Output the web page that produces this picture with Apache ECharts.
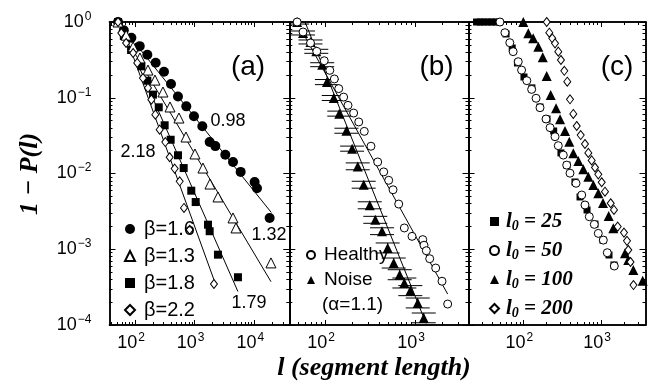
<!DOCTYPE html>
<html><head><meta charset="utf-8">
<script src="https://cdn.jsdelivr.net/npm/echarts@6/dist/echarts.min.js"></script>
<style>html,body{margin:0;padding:0;background:#fff}#c{width:656px;height:388px}</style>
</head><body><div id="c"></div>
<script>
// ---------- data (segment length l, 1-P(l)) ----------
const beta16 = [[52,1],[65,0.78],[87,0.62],[120,0.48],[161,0.37],[222,0.29],[306,0.22],[401,0.152],[525,0.104],[724,0.077],[973,0.057],[1343,0.042],[1783,0.026],[2218,0.023],[3260,0.0177],[4385,0.0142],[5890,0.0105],[10110,0.0077],[11060,0.0064],[18030,0.00259]];
const beta13 = [[52,1],[71,0.67],[93,0.47],[121,0.335],[165,0.232],[216,0.171],[294,0.119],[386,0.0755],[545,0.054],[715,0.0303],[1011,0.0181],[1377,0.0118],[1803,0.00726],[2455,0.0049],[4385,0.00259],[4920,0.00191],[18970,0.00066]];
const beta18 = [[52,1],[65,0.653],[86,0.427],[128,0.26],[161,0.168],[200,0.11],[250,0.0748],[314,0.0433],[396,0.0279],[525,0.0174],[654,0.0118],[877,0.00593],[1040,0.0042],[1671,0.00211],[1783,0.00173],[2455,0.000848],[5310,0.000427]];
const beta22 = [[52,1],[59,0.716],[71,0.528],[93,0.39],[109,0.288],[136,0.182],[165,0.135],[188,0.0942],[219,0.0597],[259,0.0379],[322,0.026],[381,0.0164],[462,0.0116],[561,0.00789],[662,0.00351],[824,0.00181],[2104,0.000348]];
const fit098 = [[100,0.53],[19200,0.00306]];
const fit132 = [[95,0.41],[19000,0.000373]];
const fit179 = [[120,0.244],[5300,0.000277]];
const fit218 = [[75,0.566],[2100,0.000397]];
const fitLabelsA = ['0.98','1.32','1.79','2.18'];

const healthy = [[49,1],[57,0.738],[69,0.528],[81,0.41],[98,0.308],[113,0.23],[127,0.177],[142,0.132],[161,0.102],[180,0.0794],[208,0.0628],[237,0.0479],[273,0.036],[324,0.0229],[385,0.0142],[449,0.0105],[510,0.00813],[570,0.0061],[659,0.00395],[761,0.00191],[927,0.00148],[1219,0.00134],[1259,0.00113],[1336,0.000957],[1456,0.00075],[1698,0.000565],[1995,0.000378],[2307,0.000189]];
const noise = [[49,1],[57,0.716],[69,0.545],[80,0.41],[93,0.273],[105,0.161],[125,0.0993],[144,0.0617],[173,0.0367],[200,0.0213],[231,0.0124],[269,0.00711],[314,0.0038],[362,0.00245],[430,0.00173],[497,0.00104],[580,0.000658],[676,0.000461],[761,0.000358],[887,0.000284],[1072,0.000195],[1250,0.000124]];
const noiseLo = [0.94,0.674,0.513,0.386,0.257,0.149,0.092,0.0572,0.034,0.0197,0.0112,0.0064,0.00342,0.0022,0.00156,0.000893,0.000565,0.000396,0.000308,0.000244,0.000168,0.000107];
const noiseHi = [1.06,0.761,0.579,0.436,0.29,0.174,0.107,0.0666,0.0396,0.023,0.0138,0.0079,0.00423,0.00272,0.00192,0.00121,0.000766,0.000537,0.000417,0.000331,0.000227,0.000144];
const fitHealthy = [[57,0.716],[2307,0.000256]];
const fitNoise = [[60,1],[1327,0.000105]];

const l025 = [[25,1],[28,1],[31,1],[35,1],[39,1],[44,1],[49,1],[60,0.695],[72,0.454],[84,0.288],[102,0.188],[129,0.135],[164,0.0755],[202,0.0524],[246,0.0364],[305,0.0187],[365,0.0129],[462,0.00773],[537,0.0049],[661,0.0033],[837,0.00215],[1061,0.00132],[1268,0.00084],[1469,0.00062]];
const l050 = [[50,1],[58,0.722],[67,0.533],[74,0.406],[86,0.299],[95,0.232],[111,0.168],[128,0.129],[146,0.0984],[164,0.0739],[196,0.0524],[221,0.0403],[256,0.0306],[282,0.0233],[327,0.0175],[362,0.0129],[399,0.0101],[477,0.00743],[565,0.0052],[622,0.00384],[707,0.00269],[820,0.00213],[923,0.00162],[1071,0.00132],[1205,0.0009],[1483,0.000601]];
const l100 = [[100,1],[116,0.709],[134,0.609],[156,0.472],[178,0.342],[200,0.194],[225,0.109],[264,0.0726],[297,0.0519],[344,0.0364],[391,0.0263],[440,0.0185],[511,0.0146],[592,0.0114],[687,0.00908],[797,0.00705],[923,0.00548],[1061,0.00408],[1257,0.00275],[1440,0.00189],[2037,0.000885],[2245,0.000722],[2604,0.000532],[3443,0.000385]];
const l200 = [[200,1],[216,0.722],[236,0.609],[256,0.523],[282,0.406],[305,0.315],[337,0.227],[368,0.163],[399,0.0954],[440,0.0611],[487,0.0424],[548,0.0322],[622,0.0245],[687,0.0187],[759,0.0149],[837,0.012],[923,0.00975],[1021,0.00766],[1125,0.00575],[1333,0.00405],[1469,0.0033],[1641,0.00199],[1977,0.00166],[2160,0.00129],[2245,0.000977],[2397,0.000679],[2618,0.000337]];

const legendA = ['β=1.6','β=1.3','β=1.8','β=2.2'];
const legendB = ['Healthy','Noise'];
const legendC = ['l0 = 25','l0 = 50','l0 = 100','l0 = 200'];
const panelNames = ['(a)','(b)','(c)'];

// axis extents in decades (log10 of l), shared y extent
const xExt = [[Math.log10(37.4), Math.log10(38500)], [Math.log10(40.1), Math.log10(3930)], [Math.log10(19.7), Math.log10(3740)]];
const yExt = [-4, 0];

// ---------- layout ----------
const grids = [
  {left:109.5, top:22, width:179.8, height:303},
  {left:289.3, top:22, width:179.2, height:303},
  {left:468.5, top:22, width:177, height:303}
];
const FONT = 'Liberation Sans';
const SERIF = 'Liberation Serif';

function decTicks(ext){
  const maj=[], min=[];
  for(let n=Math.floor(ext[0]); n<=Math.ceil(ext[1]); n++){
    if(n>=ext[0]-1e-9 && n<=ext[1]+1e-9) maj.push(n);
    for(let k=2;k<=9;k++){ const v=n+Math.log10(k); if(v>ext[0]+1e-6 && v<ext[1]-1e-6) min.push(v); }
  }
  return {maj,min};
}
function expFmt(v){ const e=Math.round(v); return '{b|10}{s|'+(e<0?'\u2212'+(-e):e)+'}'; }
const labRich = {
  b:{fontSize:18, fontFamily:FONT, color:'#000'},
  s:{fontSize:12, fontFamily:FONT, color:'#000', padding:[0,0,11,1]}
};
function mkAxis(grid, ext, pos, vals, len, label){
  return {
    type:'value', gridIndex:grid, min:ext[0], max:ext[1], position:pos,
    axisLine:{show:true, onZero:false, lineStyle:{color:'#000', width:1.5}},
    axisTick:{show:true, inside:true, length:len, customValues:vals, lineStyle:{color:'#000', width:1}},
    axisLabel: label || {show:false},
    splitLine:{show:false}
  };
}
const xAxes=[], yAxes=[];
for(let p=0;p<3;p++){
  const xt=decTicks(xExt[p]), yt=decTicks(yExt);
  xAxes.push(mkAxis(p, xExt[p], 'bottom', xt.maj, 5, {show:true, customValues:xt.maj, margin:7, padding:[0,8,0,0], formatter:expFmt, rich:labRich}));
  xAxes.push(mkAxis(p, xExt[p], 'bottom', xt.min, 3));
  xAxes.push(mkAxis(p, xExt[p], 'top', xt.maj, 5));
  xAxes.push(mkAxis(p, xExt[p], 'top', xt.min, 3));
  yAxes.push(mkAxis(p, yExt, 'left', yt.maj, 6, p===0 ? {show:true, customValues:yt.maj, margin:18, formatter:expFmt, rich:labRich} : null));
  yAxes.push(mkAxis(p, yExt, 'left', yt.min, 3));
  yAxes.push(mkAxis(p, yExt, 'right', yt.maj, 6));
  yAxes.push(mkAxis(p, yExt, 'right', yt.min, 3));
}

const lg = d => d.map(([l,v]) => [Math.log10(l), Math.log10(v)]);
const FILLED = {color:'#000', opacity:1};
const OPEN = {color:'#fff', borderColor:'#000', borderWidth:1, opacity:1};
function sc(p, name, data, symbol, size, style){
  return {type:'scatter', name, xAxisIndex:4*p, yAxisIndex:4*p, data:lg(data), symbol, symbolSize:size, itemStyle:style, clip:false, silent:true, z:3};
}
function fit(p, data){
  return {type:'line', xAxisIndex:4*p, yAxisIndex:4*p, data:lg(data), symbol:'none', lineStyle:{color:'#000', width:1}, silent:true, z:2};
}

const errData = noise.map(([l], i) => [Math.log10(l), Math.log10(noiseLo[i]), Math.log10(noiseHi[i])]);

const series = [
  fit(0, fit098), fit(0, fit132), fit(0, fit179), fit(0, fit218),
  sc(0, legendA[0], beta16, 'circle', 10, FILLED),
  sc(0, legendA[2], beta18, 'rect', 8, FILLED),
  sc(0, legendA[1], beta13, 'triangle', 10, OPEN),
  sc(0, legendA[3], beta22, 'diamond', [7,9], OPEN),
  fit(1, fitHealthy), fit(1, fitNoise),
  {type:'custom', xAxisIndex:4, yAxisIndex:4, clip:true, silent:true, z:2, data:errData,
   encode:{x:0, y:[1,2]},
   renderItem:(params, api) => {
     const x=api.value(0);
     const a=api.coord([x, api.value(1)]), b=api.coord([x, api.value(2)]);
     const w=12, st={stroke:'#000', lineWidth:1};
     return {type:'group', children:[
       {type:'line', shape:{x1:a[0], y1:a[1], x2:b[0], y2:b[1]}, style:st},
       {type:'line', shape:{x1:a[0]-w, y1:a[1], x2:a[0]+w, y2:a[1]}, style:st},
       {type:'line', shape:{x1:b[0]-w, y1:b[1], x2:b[0]+w, y2:b[1]}, style:st}
     ]};
   }},
  sc(1, legendB[1], noise, 'triangle', 10, FILLED),
  sc(1, legendB[0], healthy, 'circle', 8, OPEN),
  sc(2, legendC[0], l025, 'rect', 7, FILLED),
  sc(2, legendC[1], l050, 'circle', 8, OPEN),
  sc(2, legendC[2], l100, 'triangle', 10, FILLED),
  sc(2, legendC[3], l200, 'diamond', [7,9], OPEN)
];

const legends = [
  {data:legendA, orient:'vertical', left:124, top:219, padding:0, itemGap:7, itemWidth:10, itemHeight:10, selectedMode:false,
   textStyle:{fontSize:20, fontFamily:FONT, color:'#000', lineHeight:20, padding:[0,0,0,4]}},
  {data:legendB, orient:'vertical', left:306, top:245, padding:0, itemGap:5, itemWidth:8, itemHeight:8, selectedMode:false,
   textStyle:{fontSize:19, fontFamily:FONT, color:'#000', lineHeight:20, padding:[0,0,0,4]}},
  {data:legendC, orient:'vertical', left:489, top:211, padding:0, itemGap:7, itemWidth:9, itemHeight:9, selectedMode:false,
   formatter: n => '{i|l}{u|0}{i|' + n.slice(2) + '}',
   textStyle:{color:'#000', padding:[0,0,0,2], rich:{
     i:{fontSize:21, fontFamily:SERIF, fontWeight:'bold', fontStyle:'italic', color:'#000', lineHeight:20},
     u:{fontSize:14, fontFamily:SERIF, fontWeight:'bold', fontStyle:'italic', color:'#000', padding:[9,0,0,0]}
   }}}
];

function txt(x, y, text, size, extra){
  return Object.assign({type:'text', x, y, silent:true, z:10, style:Object.assign({text, fontSize:size, fontFamily:FONT, fill:'#000', align:'center', verticalAlign:'middle'}, extra||{})});
}
const graphic = [
  txt(248, 67, panelNames[0], 28),
  txt(436.5, 67, panelNames[1], 28),
  txt(617, 67, panelNames[2], 28),
  txt(228, 121, fitLabelsA[0], 18),
  txt(269, 235, fitLabelsA[1], 18),
  txt(249, 303, fitLabelsA[2], 18),
  txt(138, 152, fitLabelsA[3], 18),
  txt(322, 305, '(\u03b1=1.1)', 19, {align:'left'}),
  txt(374, 368, 'l (segment length)', 26, {fontFamily:SERIF, fontWeight:'bold', fontStyle:'italic'}),
  Object.assign(txt(30, 174, '1 \u2212 P(l)', 26, {fontFamily:SERIF, fontWeight:'bold', fontStyle:'italic'}), {rotation:Math.PI/2})
];

const chart = echarts.init(document.getElementById('c'), null, {renderer:'canvas'});
chart.setOption({
  animation:false,
  backgroundColor:'#fff',
  grid:grids,
  xAxis:xAxes,
  yAxis:yAxes,
  legend:legends,
  series,
  graphic
});
</script></body></html>
